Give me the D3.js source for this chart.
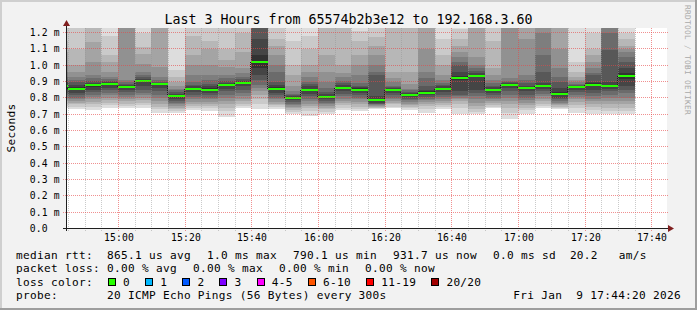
<!DOCTYPE html>
<html lang="en">
<head>
  <meta charset="UTF-8" />
  <title>Last 3 Hours</title>
  <script src="https://d3js.org/d3.v7.min.js"></script>
  <style>
    body { margin: 0; background: #f2f2f2; }
    svg { display: block; }
    text { font-family: "DejaVu Sans Mono", monospace; white-space: pre; }
  </style>
</head>
<body>
<script>
// 5 minute slots (start time of each rrd step)
var slotStarts = ["14:40","14:45","14:50","14:55","15:00","15:05","15:10","15:15","15:20","15:25",
  "15:30","15:35","15:40","15:45","15:50","15:55","16:00","16:05","16:10","16:15",
  "16:20","16:25","16:30","16:35","16:40","16:45","16:50","16:55","17:00","17:05",
  "17:10","17:15","17:20","17:25","17:30"];

// median rtt per slot, ms
var medians = [0.870,0.856,0.877,0.883,0.868,0.905,0.883,0.813,0.856,0.850,
  0.880,0.893,1.019,0.856,0.801,0.848,0.807,0.862,0.850,0.787,
  0.848,0.819,0.832,0.856,0.921,0.934,0.848,0.880,0.860,0.874,
  0.825,0.868,0.880,0.874,0.932];

// the 20 sorted pings per slot, ms (smoke)
var pings = [
  [0.74,0.75,0.765,0.78,0.79,0.80,0.815,0.83,0.845,0.86,0.88,0.895,0.91,0.93,0.96,1.0,1.08,1.15,1.28,1.35],
  [0.73,0.745,0.76,0.77,0.78,0.79,0.80,0.815,0.83,0.846,0.866,0.88,0.895,0.91,0.93,0.96,1.00,1.10,1.28,1.35],
  [0.725,0.745,0.76,0.775,0.79,0.805,0.82,0.835,0.85,0.868,0.885,0.893,0.905,0.92,0.94,1.02,1.14,1.25,1.30,1.40],
  [0.735,0.755,0.77,0.785,0.80,0.815,0.83,0.845,0.86,0.876,0.89,0.897,0.905,0.915,0.93,0.96,1.02,1.06,1.18,1.35],
  [0.74,0.75,0.765,0.78,0.79,0.805,0.82,0.835,0.85,0.864,0.872,0.878,0.885,0.895,0.91,1.30,1.35,1.40,1.45,1.50],
  [0.74,0.755,0.77,0.785,0.80,0.815,0.83,0.85,0.87,0.90,0.91,0.915,0.925,0.94,0.96,1.01,1.07,1.11,1.20,1.25],
  [0.71,0.73,0.745,0.76,0.78,0.80,0.82,0.84,0.86,0.879,0.887,0.893,0.90,0.91,0.93,0.99,1.30,1.40,1.45,1.50],
  [0.71,0.72,0.73,0.74,0.75,0.76,0.77,0.78,0.795,0.808,0.818,0.825,0.835,0.845,0.855,0.87,0.90,0.93,0.97,1.30],
  [0.725,0.74,0.75,0.765,0.775,0.79,0.805,0.82,0.835,0.85,0.862,0.87,0.88,0.90,0.94,1.00,1.06,1.18,1.25,1.30],
  [0.72,0.735,0.75,0.76,0.775,0.79,0.80,0.815,0.83,0.843,0.858,0.87,0.885,0.91,0.94,1.00,1.10,1.15,1.30,1.35],
  [0.685,0.72,0.74,0.76,0.78,0.80,0.82,0.84,0.855,0.875,0.885,0.893,0.905,0.92,0.94,0.99,1.03,1.10,1.23,1.30],
  [0.735,0.75,0.765,0.78,0.795,0.81,0.83,0.85,0.87,0.889,0.897,0.905,0.915,0.93,0.95,0.98,1.08,1.20,1.28,1.35],
  [0.73,0.76,0.79,0.82,0.84,0.86,0.88,0.91,0.94,0.98,1.06,1.16,1.26,1.30,1.35,1.40,1.45,1.50,1.55,1.60],
  [0.73,0.745,0.755,0.765,0.775,0.79,0.80,0.815,0.83,0.846,0.866,0.88,0.90,0.96,1.00,1.06,1.12,1.16,1.25,1.30],
  [0.70,0.715,0.725,0.735,0.745,0.755,0.765,0.775,0.785,0.796,0.806,0.81,0.815,0.825,0.84,0.87,0.94,1.00,1.15,1.30],
  [0.69,0.72,0.735,0.75,0.765,0.78,0.795,0.81,0.825,0.84,0.856,0.87,0.885,0.90,0.93,0.96,1.00,1.10,1.18,1.26],
  [0.70,0.715,0.73,0.74,0.75,0.76,0.77,0.78,0.79,0.801,0.813,0.823,0.835,0.86,0.90,0.96,1.06,1.25,1.30,1.40],
  [0.725,0.74,0.755,0.77,0.78,0.795,0.81,0.825,0.84,0.856,0.868,0.878,0.89,0.905,0.925,0.95,1.00,1.25,1.28,1.35],
  [0.72,0.73,0.745,0.76,0.775,0.79,0.80,0.815,0.83,0.842,0.858,0.866,0.875,0.89,0.94,1.00,1.06,1.15,1.21,1.26],
  [0.73,0.735,0.74,0.745,0.75,0.755,0.76,0.765,0.77,0.779,0.795,0.81,0.94,0.96,1.00,1.06,1.12,1.17,1.25,1.30],
  [0.735,0.745,0.76,0.77,0.78,0.79,0.80,0.815,0.83,0.843,0.853,0.86,0.867,0.875,0.90,0.92,0.96,1.25,1.30,1.35],
  [0.725,0.735,0.745,0.755,0.765,0.775,0.785,0.795,0.805,0.815,0.823,0.828,0.835,0.845,0.856,0.886,0.958,1.24,1.30,1.35],
  [0.71,0.73,0.75,0.765,0.775,0.785,0.795,0.805,0.815,0.824,0.84,0.85,0.87,0.92,0.96,1.10,1.25,1.30,1.35,1.40],
  [0.73,0.745,0.755,0.77,0.78,0.79,0.805,0.82,0.835,0.849,0.863,0.87,0.878,0.89,0.91,0.94,1.00,1.06,1.16,1.25],
  [0.70,0.74,0.76,0.78,0.79,0.80,0.81,0.82,0.84,0.907,0.935,0.96,1.00,1.02,1.05,1.08,1.12,1.16,1.22,1.30],
  [0.70,0.715,0.73,0.75,0.77,0.79,0.81,0.83,0.85,0.928,0.94,0.95,0.965,0.98,1.0,1.05,1.26,1.30,1.35,1.40],
  [0.735,0.745,0.755,0.77,0.78,0.79,0.80,0.815,0.83,0.841,0.855,0.865,0.875,0.89,0.91,0.94,0.98,1.15,1.28,1.35],
  [0.67,0.71,0.74,0.76,0.78,0.80,0.82,0.84,0.86,0.876,0.884,0.888,0.895,0.905,0.92,1.30,1.35,1.40,1.45,1.50],
  [0.70,0.725,0.74,0.755,0.77,0.785,0.80,0.82,0.84,0.854,0.866,0.875,0.89,0.91,0.94,1.16,1.30,1.35,1.40,1.45],
  [0.735,0.75,0.765,0.78,0.795,0.81,0.825,0.84,0.855,0.87,0.878,0.893,0.96,1.06,1.20,1.30,1.35,1.40,1.45,1.50],
  [0.73,0.735,0.745,0.755,0.76,0.77,0.78,0.79,0.80,0.815,0.835,0.86,0.90,0.93,0.98,1.10,1.25,1.30,1.35,1.40],
  [0.71,0.735,0.755,0.775,0.79,0.805,0.82,0.835,0.85,0.864,0.872,0.875,0.88,0.885,0.895,0.91,0.93,0.96,1.02,1.30],
  [0.70,0.725,0.745,0.765,0.78,0.795,0.81,0.83,0.85,0.87,0.89,0.90,0.94,0.95,0.98,1.02,1.06,1.10,1.20,1.30],
  [0.70,0.72,0.74,0.76,0.78,0.80,0.82,0.84,0.855,0.868,0.88,0.895,1.09,1.20,1.30,1.35,1.40,1.45,1.50,1.55],
  [0.70,0.72,0.74,0.76,0.78,0.80,0.83,0.85,0.87,0.915,0.955,0.98,1.02,1.05,1.08,1.10,1.12,1.16,1.20,1.30]
];

var yTicks = [0, 0.1, 0.2, 0.3, 0.4, 0.5, 0.6, 0.7, 0.8, 0.9, 1.0, 1.1, 1.2];

var titleText = "Last 3 Hours from 65574b2b3e12 to 192.168.3.60";
var rttStats = ["865.1 us avg", "1.0 ms max", "790.1 us min", "931.7 us now", "0.0 ms sd  20.2   am/s"];
var lossStats = ["0.00 % avg", "0.00 % max", "0.00 % min", "0.00 % now"];
var lossLabels = ["0", "1", "2", "3", "4-5", "6-10", "11-19", "20/20"];
var lossColors = ["#26ff00", "#00b8ff", "#0059ff", "#7e00ff", "#ff00ff", "#ff5500", "#ff0000", "#a10000"];
var probeText = "20 ICMP Echo Pings (56 Bytes) every 300s";
var dateText = "Fri Jan  9 17:44:20 2026";

var W = 697, H = 310;
var plotTop = 28;
var parseT = d3.timeParse("%H:%M:%S");
var parseHM = d3.timeParse("%H:%M");

var x = d3.scaleTime()
  .domain([parseT("14:44:20"), parseT("17:44:20")])
  .range([66.3, 666.3]);
var y = d3.scaleLinear().domain([0, 1.2]).range([228.5, 32.5]);
function crisp(v) { return Math.floor(v) + 0.5; }
// pixel column edge of a time (so neighbouring steps share an edge)
function edge(t) { return Math.floor(x(t)); }

// dotted lines built from single pixels (1 on / 1 off)
function vDots(px, y0, y1) {
  var d = "";
  for (var yy = y0; yy < y1; yy += 2) d += "M" + px + "," + yy + "h1v1h-1z";
  return d;
}
function hDots(py, x0, x1) {
  var d = "";
  for (var xx = x0; xx < x1; xx += 2) d += "M" + xx + "," + py + "h1v1h-1z";
  return d;
}

var svg = d3.select("body").append("svg").attr("width", W).attr("height", H);

// background + 3d frame
svg.append("rect").attr("width", W).attr("height", H).attr("fill", "#f2f2f2");
svg.append("path").attr("d", "M0,0H697V2H2V310H0Z").attr("fill", "#cfcfcf");
svg.append("path").attr("d", "M697,0V310H0V308H695V0Z").attr("fill", "#9e9e9e");

// canvas
svg.append("rect").attr("x", 66).attr("y", plotTop).attr("width", 601).attr("height", 201).attr("fill", "#fff");

// smoke
var smoke = svg.append("g").attr("shape-rendering", "crispEdges");
var left = x.range()[0];
pings.forEach(function (p, i) {
  var t0 = parseHM(slotStarts[i]);
  var x0 = Math.max(edge(t0), 67);
  var x1 = edge(d3.timeMinute.offset(t0, 5));
  for (var k = 1; k <= 10; k++) {
    var g = 50 + Math.floor(190 / 10 * (10 - k));
    var yHi = Math.round(Math.max(y(p[20 - k]), plotTop));
    var yLo = Math.round(y(p[k - 1]));
    smoke.append("rect")
      .attr("x", x0).attr("width", x1 - x0)
      .attr("y", yHi).attr("height", Math.max(0, yLo - yHi))
      .attr("fill", d3.rgb(g, g, g));
  }
});

// median: step connectors + green segments
var med = svg.append("g").attr("shape-rendering", "crispEdges");
medians.forEach(function (m, i) {
  var t0 = parseHM(slotStarts[i]);
  var x0 = Math.max(edge(t0), 67);
  var x1 = edge(d3.timeMinute.offset(t0, 5));
  var ym = Math.round(y(m));
  if (i < medians.length - 1) {
    var yn = Math.round(y(medians[i + 1]));
    med.append("path").attr("d", vDots(x1 - 1, Math.min(ym, yn), Math.max(ym, yn)))
      .attr("fill", "#202020");
  }
  med.append("rect").attr("x", x0).attr("width", x1 - x0)
    .attr("y", ym - 1).attr("height", 2).attr("fill", lossColors[0]);
});

// grid (drawn over the smoke like rrdtool)
var grid = svg.append("g").attr("shape-rendering", "crispEdges");
var majorT = x.ticks(d3.timeMinute.every(20));
var minorT = x.ticks(d3.timeMinute.every(5)).filter(function (t) { return t.getMinutes() % 20 !== 0; });
var minorCol = "rgba(150,150,150,0.5)", majorCol = "rgba(230,70,70,0.6)";
minorT.forEach(function (t) {
  grid.append("path").attr("d", vDots(Math.floor(x(t)), plotTop, 231)).attr("fill", minorCol);
});
yTicks.slice(1).forEach(function (v) {
  grid.append("path").attr("d", hDots(Math.floor(y(v)), 63, 668)).attr("fill", majorCol);
});
majorT.forEach(function (t) {
  grid.append("path").attr("d", vDots(Math.floor(x(t)), plotTop, 231)).attr("fill", majorCol);
});

// axes + arrows
var axisCol = "rgb(31,31,31)", arrowCol = "rgb(128,31,31)";
svg.append("line").attr("x1", 63).attr("x2", 669).attr("y1", crisp(y(0))).attr("y2", crisp(y(0)))
  .attr("stroke", axisCol).attr("shape-rendering", "crispEdges");
svg.append("line").attr("x1", crisp(left)).attr("x2", crisp(left)).attr("y1", 231).attr("y2", 24)
  .attr("stroke", axisCol).attr("shape-rendering", "crispEdges");
svg.append("path").attr("d", "M668,225L674,228.5L668,232Z").attr("fill", arrowCol);
svg.append("path").attr("d", "M63,26L66.5,20L70,26Z").attr("fill", arrowCol);

// axis labels
var fmt = d3.format(".1f");
svg.append("g").selectAll("text").data(yTicks).enter().append("text")
  .attr("x", 29.8).attr("y", function (d) { return crisp(y(d)) + 3.5; })
  .style("font-size", "9.72px").style("letter-spacing", "0.15px")
  .text(function (d) { return d === 0 ? "0.0" : fmt(d) + " m"; });

var tf = d3.timeFormat("%H:%M");
svg.append("g").selectAll("text").data(majorT).enter().append("text")
  .attr("x", function (d) { return crisp(x(d)) + 0.5; }).attr("y", 240.5)
  .attr("text-anchor", "middle")
  .style("font-size", "9.72px").style("letter-spacing", "0.15px")
  .text(function (d) { return tf(d); });

// title
svg.append("text").attr("x", 348.5).attr("y", 24).attr("text-anchor", "middle")
  .style("font-size", "13.3px").text(titleText);

// vertical unit label
svg.append("text").attr("transform", "translate(15,128) rotate(-90)")
  .attr("text-anchor", "middle").style("font-size", "11.1px").style("letter-spacing", "0.31px")
  .text("Seconds");

// watermark
svg.append("text").attr("transform", "translate(685,5) rotate(90)")
  .style("font-size", "7.8px").style("letter-spacing", "0.3px").attr("fill", "#a9a9a9")
  .text("RRDTOOL / TOBI OETIKER");

// legend
var adv = 7, col0 = 16, col1 = 107, gap = 16;
var rows = [258.5, 272, 285.5, 299];
function legendText(xp, yp, s) {
  return svg.append("text").attr("x", xp).attr("y", yp)
    .style("font-size", "11.1px").style("letter-spacing", "0.31px").text(s);
}
function placeItems(items, yp) {
  var cx = col1;
  items.forEach(function (s) {
    legendText(cx, yp, s);
    cx += s.length * adv + gap;
  });
  return cx;
}
legendText(col0, rows[0], "median rtt:");
placeItems(rttStats, rows[0]);
legendText(col0, rows[1], "packet loss:");
placeItems(lossStats, rows[1]);
legendText(col0, rows[2], "loss color:");
var bx = 108.3;
lossLabels.forEach(function (lab, i) {
  svg.append("rect").attr("x", Math.floor(bx) + 0.5).attr("y", 278.5).attr("width", 7).attr("height", 7)
    .attr("fill", lossColors[i]).attr("stroke", "#000");
  legendText(bx + 14.7, rows[2], lab);
  bx += 30.2 + lab.length * adv;
});
legendText(col0, rows[3], "probe:");
legendText(col1, rows[3], probeText);
legendText(513.3, rows[3], dateText);
</script>
</body>
</html>
